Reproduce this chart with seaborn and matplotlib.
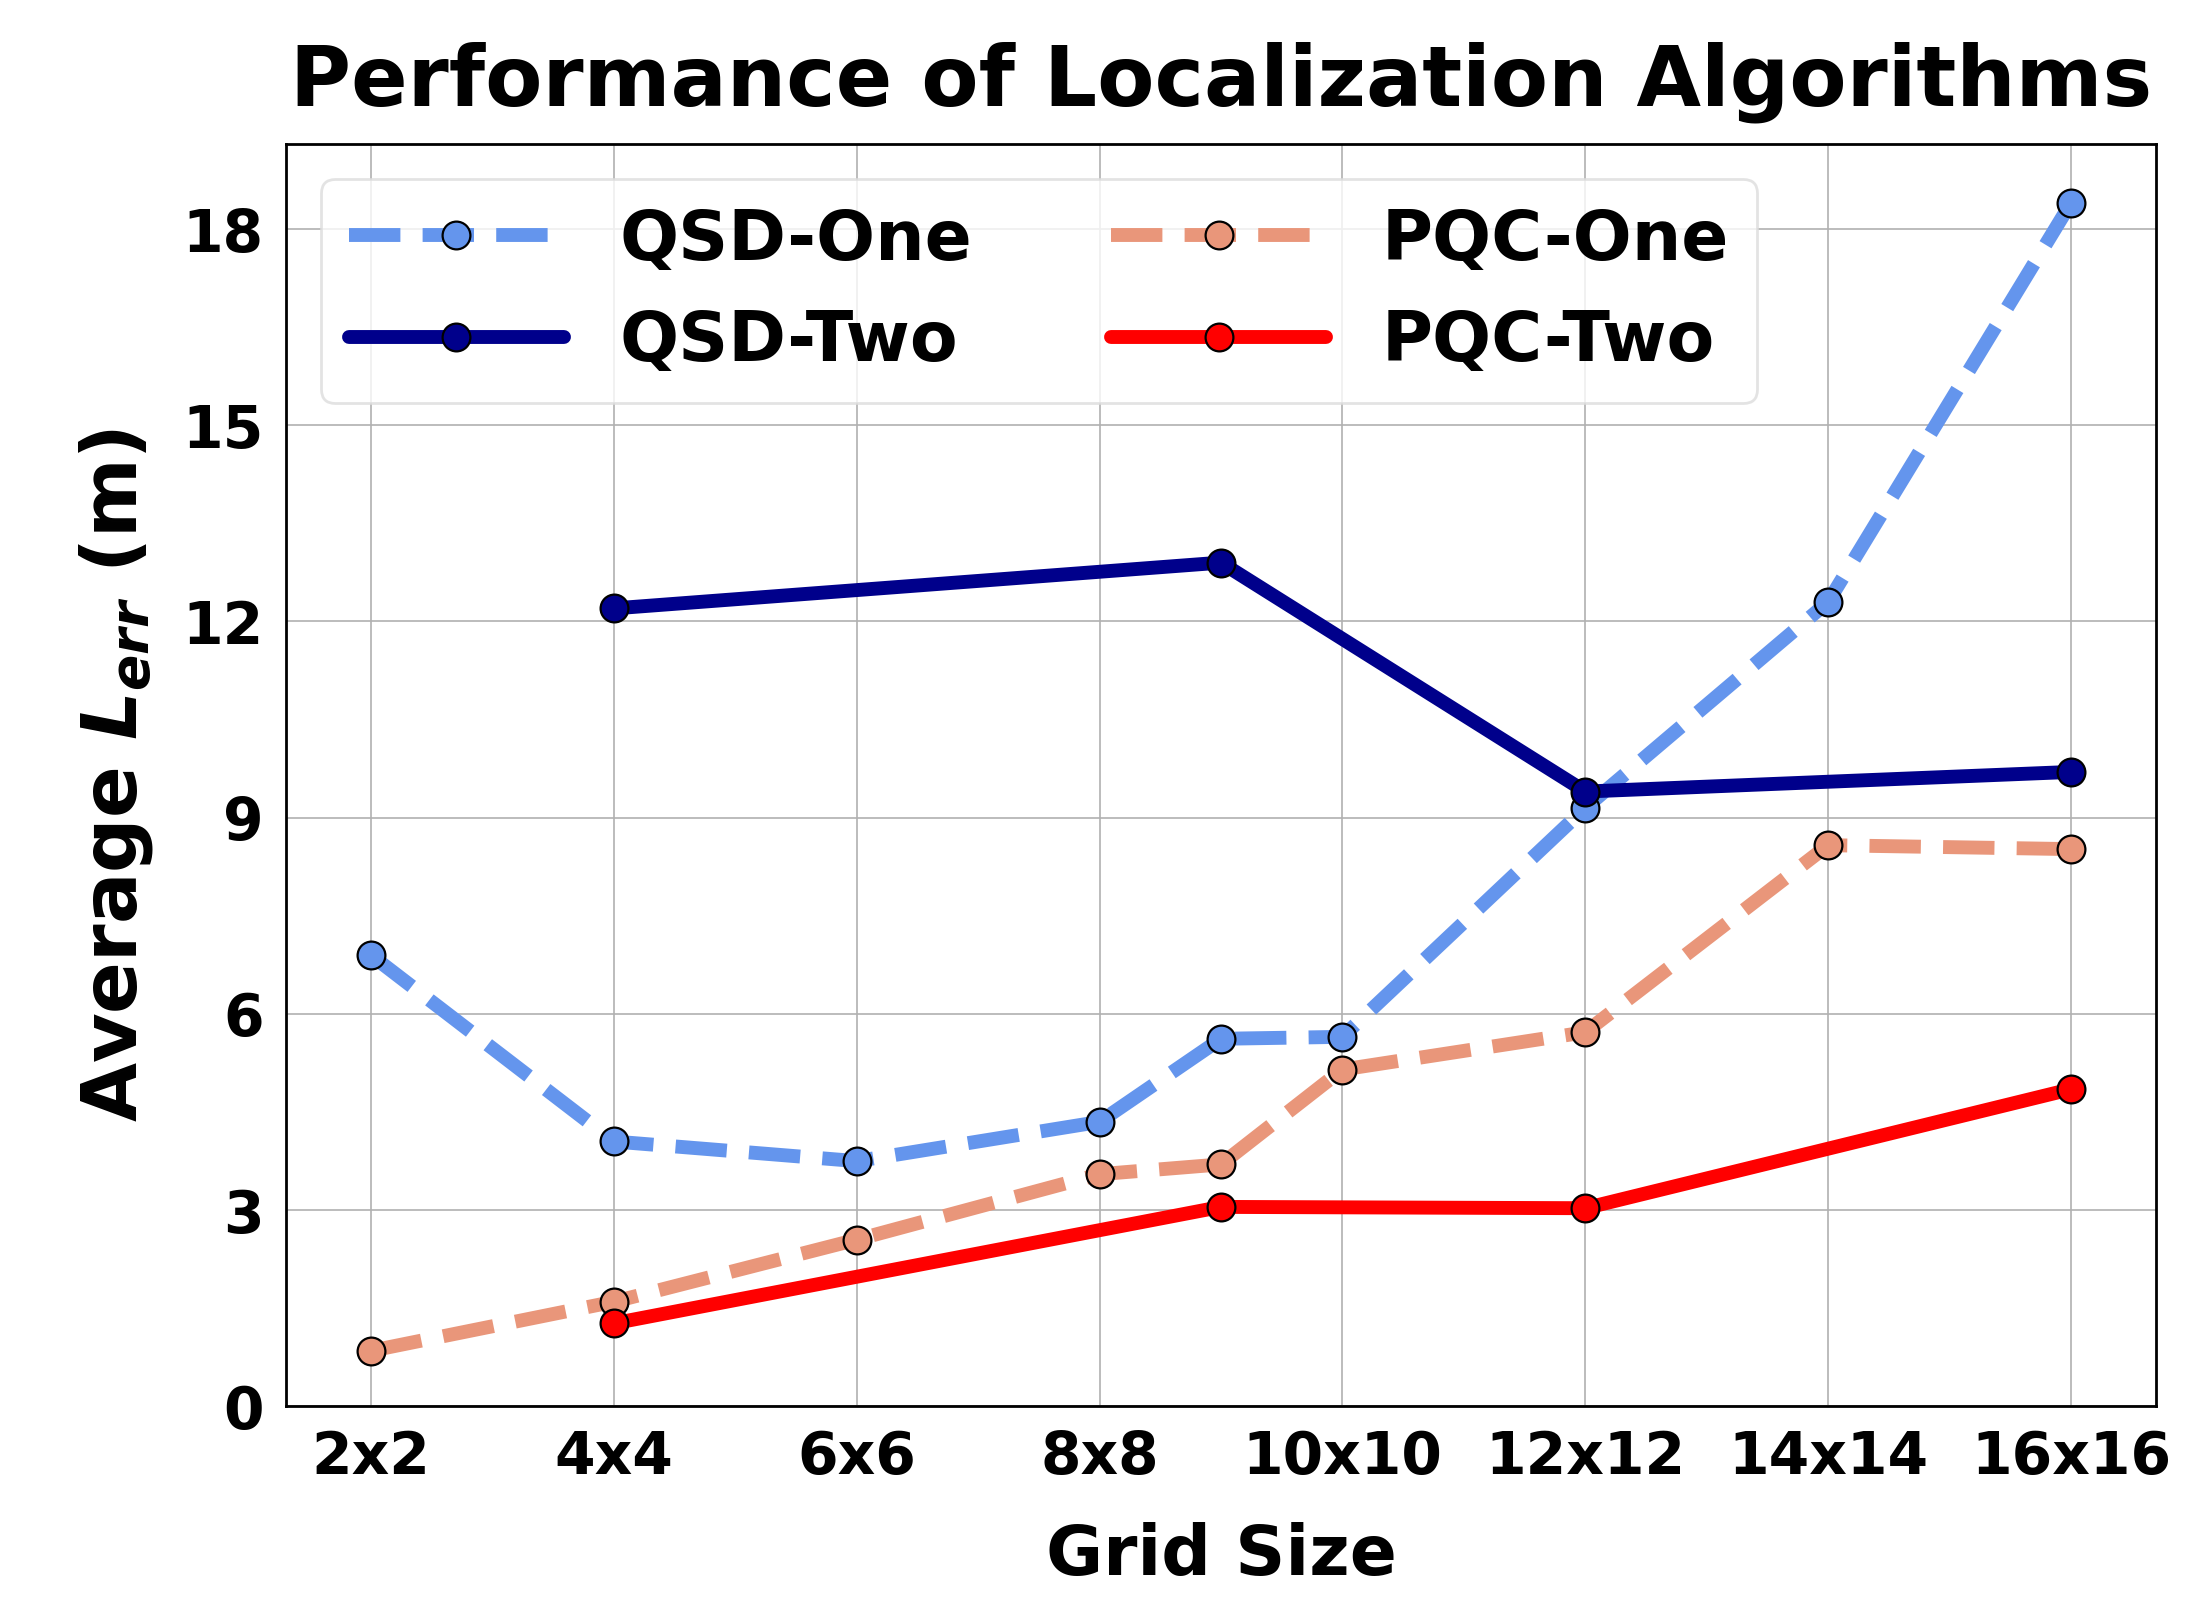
import pandas as pd
import matplotlib
matplotlib.use('Agg')
from matplotlib import pyplot as plt
import seaborn as sns

# dane
grid_labels = ['2x2', '4x4', '6x6', '8x8', '10x10', '12x12', '14x14', '16x16']
grid_ticks = [2, 4, 6, 8, 10, 12, 14, 16]

qsd_one_x = [2, 4, 6, 8, 9, 10, 12, 14, 16]
qsd_one_y = [6.9, 4.05, 3.75, 4.35, 5.62, 5.65, 9.15, 12.3, 18.4]

qsd_two_x = [4, 9, 12, 16]
qsd_two_y = [12.2, 12.9, 9.4, 9.7]

pqc_one_x = [2, 4, 6, 8, 9, 10, 12, 14, 16]
pqc_one_y = [0.85, 1.6, 2.55, 3.55, 3.7, 5.15, 5.72, 8.58, 8.52]

pqc_two_x = [4, 9, 12, 16]
pqc_two_y = [1.27, 3.05, 3.03, 4.85]

sns.set_style('whitegrid')
plt.rcParams['font.family'] = ['DejaVu Sans']
plt.rcParams['font.weight'] = 'bold'
plt.rcParams['axes.labelweight'] = 'bold'
plt.rcParams['axes.titleweight'] = 'bold'
plt.rcParams['text.color'] = 'black'
plt.rcParams['axes.labelcolor'] = 'black'
plt.rcParams['xtick.color'] = 'black'
plt.rcParams['ytick.color'] = 'black'

fig, ax = plt.subplots(figsize=(11, 8), dpi=200)
fig.subplots_adjust(left=0.13, right=0.98, top=0.91, bottom=0.121)

series = [
    ('QSD-One', qsd_one_x, qsd_one_y, '#6495ED', '--'),
    ('QSD-Two', qsd_two_x, qsd_two_y, '#00008B', '-'),
    ('PQC-One', pqc_one_x, pqc_one_y, '#E9967A', '--'),
    ('PQC-Two', pqc_two_x, pqc_two_y, '#FF0000', '-'),
]

for name, xs, ys, col, ls in series:
    df = pd.DataFrame({'x': xs, 'y': ys})
    sns.lineplot(data=df, x='x', y='y', ax=ax, color=col, linestyle=ls,
                 linewidth=5, marker='o', markersize=10, markeredgecolor='black',
                 markeredgewidth=0.8, label=name)

ax.set_xlim(1.3, 16.7)
ax.set_ylim(0, 19.3)
ax.set_xticks(grid_ticks)
ax.set_xticklabels(grid_labels)
ax.set_yticks([0, 3, 6, 9, 12, 15, 18])
ax.tick_params(axis='both', direction='in', length=5, width=2.5, labelsize=21,
               pad=8, color='black', labelcolor='black')
for lab in ax.get_xticklabels() + ax.get_yticklabels():
    lab.set_fontweight('bold')

ax.grid(True, color='#b0b0b0', linewidth=0.6)
for s in ax.spines.values():
    s.set_color('black')
    s.set_linewidth(1)

ax.set_xlabel('Grid Size', fontsize=25, fontweight='bold', labelpad=13)
ax.set_ylabel(r'Average $L_{err}$ (m)', fontsize=27.5, fontweight='bold', labelpad=10)
ax.set_title('Performance of Localization Algorithms', fontsize=30, fontweight='bold', pad=14)

leg = ax.legend(loc='upper left', ncol=2, handlelength=3.1,
                columnspacing=2.0, borderpad=0.4, frameon=True,
                prop={'weight': 'bold', 'size': 25})
leg.get_frame().set_edgecolor('#dddddd')

plt.savefig('out.png', dpi=200)
